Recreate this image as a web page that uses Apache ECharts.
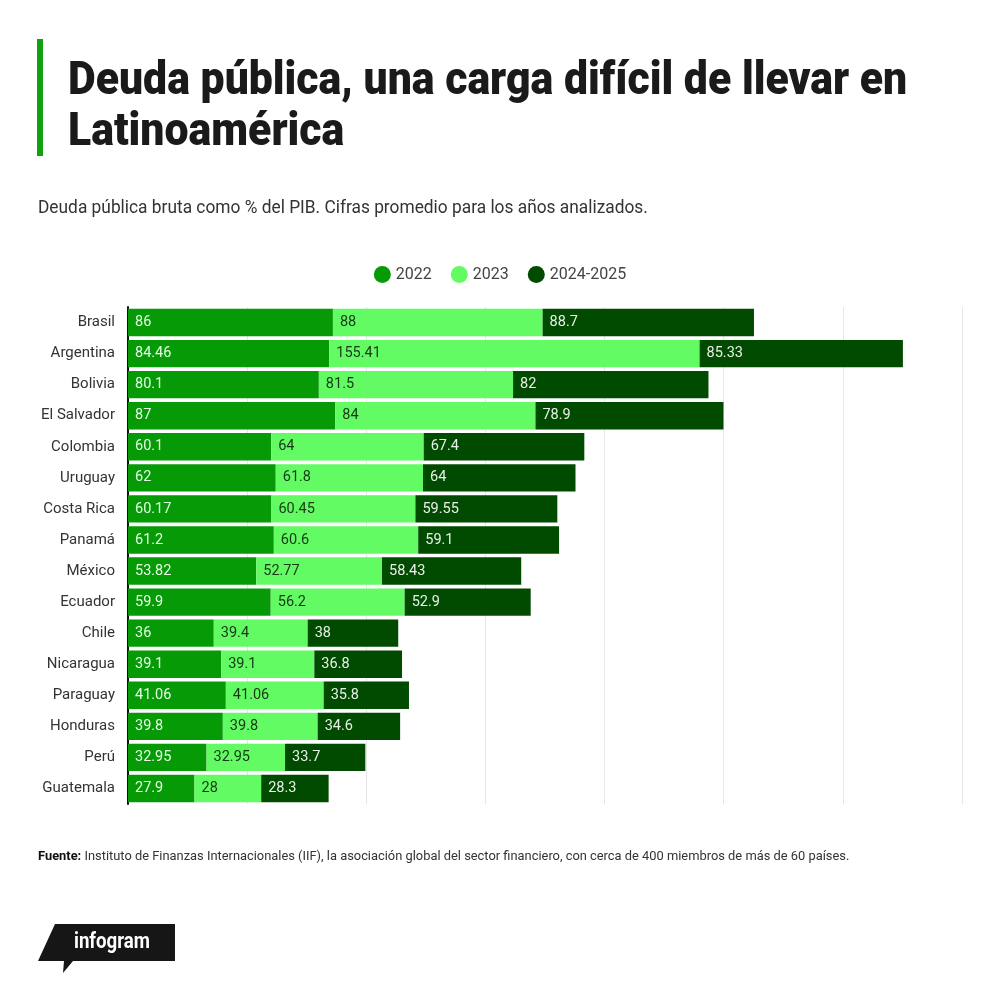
<!DOCTYPE html>
<html>
<head>
<meta charset="utf-8">
<script src="https://cdn.jsdelivr.net/npm/echarts@6/dist/echarts.min.js"></script>
<style>
  html, body { margin: 0; padding: 0; background: #fff; }
  #chart { width: 1000px; height: 993px; }
</style>
</head>
<body>
<div id="chart"></div>
<script>
// data
var countries = ['Brasil', 'Argentina', 'Bolivia', 'El Salvador', 'Colombia', 'Uruguay', 'Costa Rica', 'Panamá',
  'México', 'Ecuador', 'Chile', 'Nicaragua', 'Paraguay', 'Honduras', 'Perú', 'Guatemala']
var debt2022 = [86, 84.46, 80.1, 87, 60.1, 62, 60.17, 61.2, 53.82, 59.9, 36, 39.1, 41.06, 39.8, 32.95, 27.9]
var debt2023 = [88, 155.41, 81.5, 84, 64, 61.8, 60.45, 60.6, 52.77, 56.2, 39.4, 39.1, 41.06, 39.8, 32.95, 28]
var debt2024 = [88.7, 85.33, 82, 78.9, 67.4, 64, 59.55, 59.1, 58.43, 52.9, 38, 36.8, 35.8, 34.6, 33.7, 28.3]
var seriesNames = ['2022', '2023', '2024-2025']

var colors = ['#079a07', '#63fb63', '#004b00']
var labelColors = ['#e4ffe4', '#163816', '#e8f0e8']
var font = 'Roboto, "Noto Sans", sans-serif'

var chart = echarts.init(document.getElementById('chart'))

function makeSeries(name, data, i) {
  return {
    name: name,
    type: 'bar',
    stack: 'total',
    data: data,
    barCategoryGap: '12%',
    itemStyle: { color: colors[i] },
    label: {
      show: true,
      position: 'insideLeft',
      distance: 7,
      color: labelColors[i],
      fontFamily: font,
      fontSize: 14.5
    }
  }
}

var option = {
  animation: false,
  color: colors,
  legend: {
    data: seriesNames,
    top: 261,
    left: 'center',
    icon: 'circle',
    itemWidth: 17,
    itemHeight: 17,
    itemGap: 19,
    textStyle: { color: '#444', fontSize: 16, fontFamily: font }
  },
  grid: {
    left: 128,
    right: 38,
    top: 307,
    bottom: 189
  },
  xAxis: {
    type: 'value',
    min: 0,
    max: 350,
    interval: 50,
    axisLabel: { show: false },
    axisLine: { show: false },
    axisTick: { show: false },
    splitLine: { lineStyle: { color: '#e6e6e6', width: 1 } }
  },
  yAxis: {
    type: 'category',
    data: countries,
    inverse: true,
    axisTick: { show: false },
    axisLine: { lineStyle: { color: '#111', width: 2 } },
    axisLabel: { color: '#333', fontSize: 15, fontFamily: font, margin: 13 }
  },
  series: [
    makeSeries(seriesNames[0], debt2022, 0),
    makeSeries(seriesNames[1], debt2023, 1),
    makeSeries(seriesNames[2], debt2024, 2)
  ],
  graphic: [
    // green accent bar beside the title
    { type: 'rect', shape: { x: 37, y: 39, width: 6, height: 117 }, style: { fill: '#10a010' } },
    {
      type: 'text', x: 68, y: 57, scaleX: 0.91,
      style: {
        text: 'Deuda pública, una carga difícil de llevar en\nLatinoamérica',
        font: '900 47px ' + font, fill: '#1a1a1a', lineHeight: 51
      }
    },
    {
      type: 'text', x: 38, y: 200, scaleX: 0.99,
      style: {
        text: 'Deuda pública bruta como % del PIB. Cifras promedio para los años analizados.',
        font: '17.5px ' + font, fill: '#333'
      }
    },
    {
      type: 'text', x: 38, y: 850, scaleX: 0.99,
      style: {
        text: '{b|Fuente:} Instituto de Finanzas Internacionales (IIF), la asociación global del sector financiero, con cerca de 400 miembros de más de 60 países.',
        font: '13px ' + font, fill: '#333',
        rich: {
          b: { fontWeight: 700, fontSize: 13, fontFamily: font, fill: '#111' }
        }
      }
    },
    // infogram badge
    {
      type: 'polygon',
      shape: { points: [[55, 924], [175, 924], [175, 961], [73, 961], [63, 973], [64, 961], [38, 961]] },
      style: { fill: '#161616' }
    },
    {
      type: 'text', x: 112, y: 942, scaleX: 0.85,
      style: {
        text: 'infogram', font: '700 22px ' + font, fill: '#fff',
        align: 'center', verticalAlign: 'middle'
      }
    }
  ]
}

chart.setOption(option)
</script>
</body>
</html>
